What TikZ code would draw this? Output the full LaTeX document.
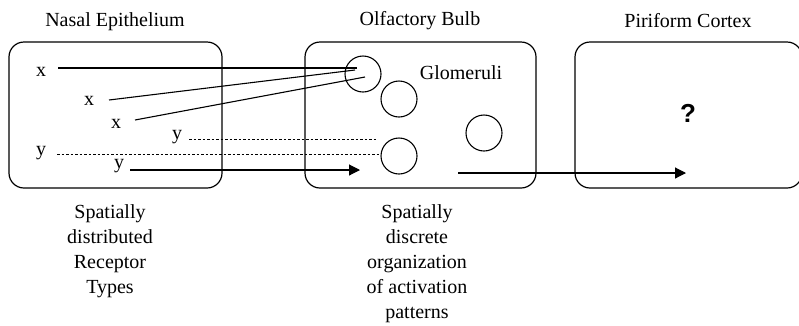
\documentclass[tikz,border=0pt]{standalone}
\usepackage{fontspec}
\setmainfont{Liberation Serif}
\newfontfamily\qfont{Liberation Sans}
\usetikzlibrary{arrows.meta}
\begin{document}
\begin{tikzpicture}[x=1pt,y=-1pt,
  region/.style={draw,line width=1.2pt,rounded corners=15pt},
  lbl/.style={inner sep=0pt,font=\fontsize{20}{25}\selectfont},
  title/.style={inner sep=0pt,font=\fontsize{20}{25}\selectfont},
  caption/.style={inner sep=0pt,align=center,font=\fontsize{20}{25}\selectfont,anchor=north},
  glom/.style={draw,circle,line width=1.1pt,minimum size=36pt,inner sep=0pt},
  wire/.style={line width=1.1pt},
  dwire/.style={line width=1pt,dash pattern=on 2.5pt off 2pt},
  arr/.style={line width=1.1pt,-{Triangle[length=11pt,width=11pt]}}]
\useasboundingbox (0,0) rectangle (799,325);
% regions
\draw[region] (9,42) rectangle (222,188);
\draw[region] (305,42) rectangle (536,188);
\draw[region] (575,42) rectangle (802,188);
% titles
\node[title] (t1) at (115,22) {Nasal Epithelium};
\node[title] (t2) at (420,21) {Olfactory Bulb};
\node[title] (t3) at (688,21) {Piriform Cortex};
% glomeruli
\node[glom] (g1) at (363,74) {};
\node[glom] (g2) at (399,99) {};
\node[glom] (g3) at (399,156) {};
\node[glom] (g4) at (484,133) {};
\node[lbl] (gl) at (461,73) {Glomeruli};
% receptor labels
\node[lbl] (x1) at (41,72) {x};
\node[lbl] (x2) at (89,101) {x};
\node[lbl] (x3) at (116,124) {x};
\node[lbl] (y1) at (177,137) {y};
\node[lbl] (y2) at (41,153) {y};
\node[lbl] (y3) at (119,166) {y};
% wire endpoints
\coordinate (a1) at (58,68);  \coordinate (b1) at (357,68);
\coordinate (a2) at (109,100); \coordinate (b2) at (355,70);
\coordinate (a3) at (135,120); \coordinate (b3) at (365,77);
\coordinate (a4) at (189,139); \coordinate (b4) at (377,139);
\coordinate (a5) at (57,154);  \coordinate (b5) at (380,154);
\coordinate (a6) at (130,170); \coordinate (b6) at (360,170);
\coordinate (a7) at (458,173); \coordinate (b7) at (686,173);
\draw[wire] (a1) -- (b1);
\draw[wire] (a2) -- (b2);
\draw[wire] (a3) -- (b3);
\draw[dwire] (a4) -- (b4);
\draw[dwire] (a5) -- (b5);
\draw[arr] (a6) -- (b6);
\draw[arr] (a7) -- (b7);
% question mark
\node[inner sep=0pt,font=\qfont\bfseries\fontsize{26}{30}\selectfont] (q) at (688,113) {?};
% captions
\node[caption] (c1) at (110,204) {Spatially\\distributed\\Receptor\\Types};
\node[caption] (c2) at (417,204) {Spatially\\discrete\\organization\\of activation\\patterns};
\end{tikzpicture}
\end{document}
